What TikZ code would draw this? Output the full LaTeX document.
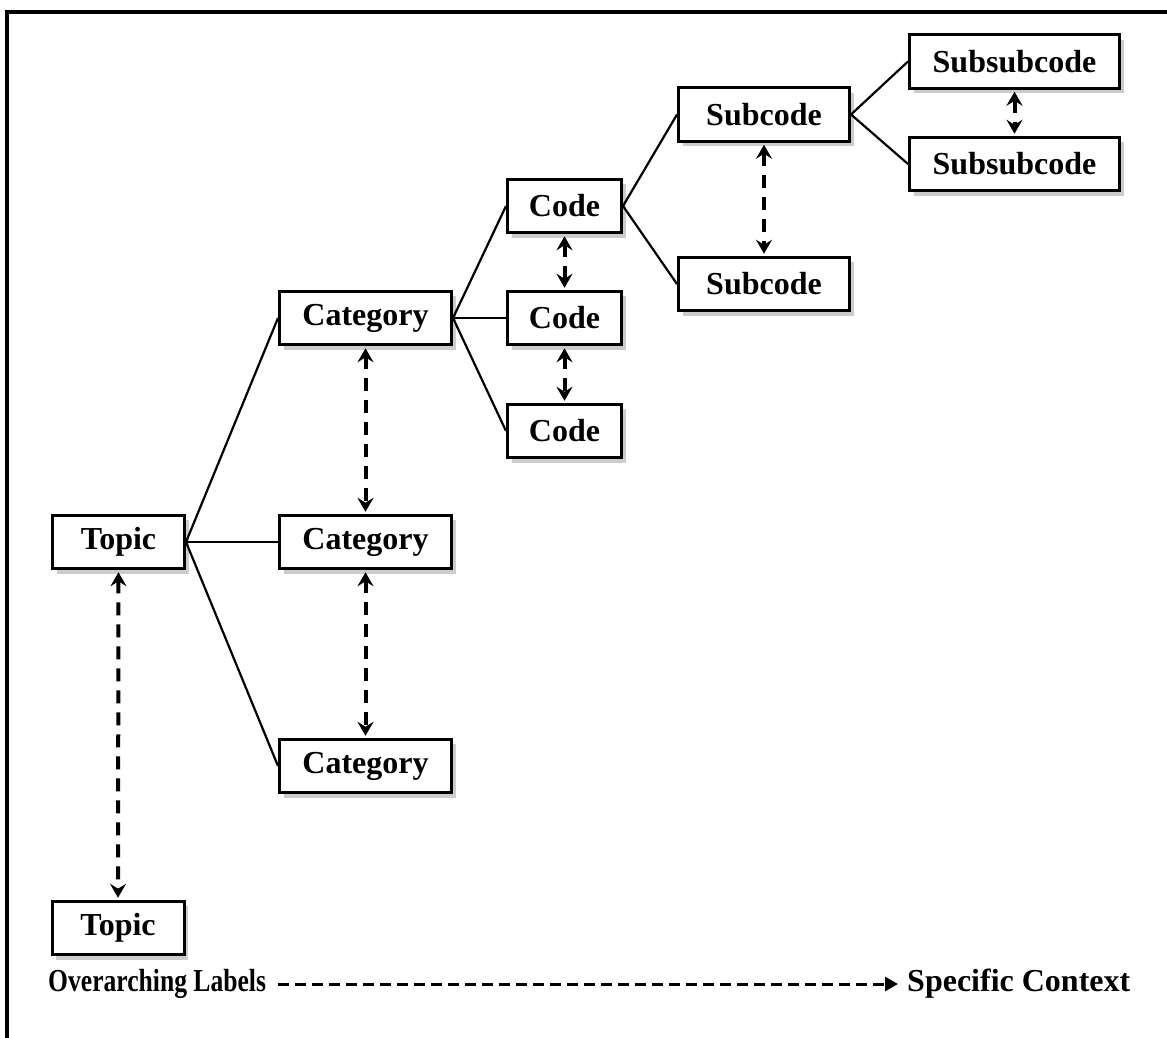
\documentclass[tikz,border=0pt]{standalone}
\usepackage{fontspec}
\setmainfont{Liberation Serif}
\usetikzlibrary{arrows.meta,shadows}
\begin{document}
\begin{tikzpicture}[x=1pt,y=-1pt,
  box/.style={draw, line width=3pt, fill=white, minimum height=53.5pt, inner sep=0pt,
    font=\fontsize{32}{37}\selectfont\bfseries,
    drop shadow={shadow xshift=4pt, shadow yshift=-5pt, opacity=0.4}},
  link/.style={line width=2.2pt},
  dbl/.style={line width=4pt, dash pattern=on 13pt off 9pt,
    {Stealth[length=14pt,width=16pt,inset=5pt]}-{Stealth[length=14pt,width=16pt,inset=5pt]},
    shorten >=2pt, shorten <=2pt},
  legtext/.style={font=\fontsize{32}{37}\selectfont\bfseries, inner sep=0pt},
  legarrow/.style={line width=3pt, dash pattern=on 11pt off 6pt, -{Triangle[length=13pt,width=14pt]}}]
\useasboundingbox (0,0) rectangle (1167,1038);
\draw[line width=4pt] (7,1045) -- (7,12) -- (1175,12);

\node[box, minimum width=132pt] (t1) at (118.5,542) {Topic};
\node[box, minimum width=132pt] (t2) at (118,928) {Topic};
\node[box, minimum width=172pt] (c1) at (365.5,318) {Category};
\node[box, minimum width=172pt] (c2) at (365.5,542) {Category};
\node[box, minimum width=172pt] (c3) at (365.5,766) {Category};
\node[box, minimum width=114pt] (d1) at (564.5,206) {Code};
\node[box, minimum width=114pt] (d2) at (564.5,318) {Code};
\node[box, minimum width=114pt] (d3) at (564.5,431) {Code};
\node[box, minimum width=171pt] (s1) at (764,114.5) {Subcode};
\node[box, minimum width=171pt] (s2) at (764,284) {Subcode};
\node[box, minimum width=210pt] (u1) at (1014.5,61.5) {Subsubcode};
\node[box, minimum width=210pt] (u2) at (1014.5,164) {Subsubcode};

\draw[link] (t1.east) -- (c1.west);
\draw[link] (t1.east) -- (c2.west);
\draw[link] (t1.east) -- (c3.west);
\draw[link] (c1.east) -- (d1.west);
\draw[link] (c1.east) -- (d2.west);
\draw[link] (c1.east) -- (d3.west);
\draw[link] (d1.east) -- (s1.west);
\draw[link] (d1.east) -- (s2.west);
\draw[link] (s1.east) -- (u1.west);
\draw[link] (s1.east) -- (u2.west);

\draw[dbl] (t1.south) -- (t2.north);
\draw[dbl] (c1.south) -- (c2.north);
\draw[dbl] (c2.south) -- (c3.north);
\draw[dbl] (d1.south) -- (d2.north);
\draw[dbl] (d2.south) -- (d3.north);
\draw[dbl] (s1.south) -- (s2.north);
\draw[dbl] (u1.south) -- (u2.north);

\node[legtext, anchor=west] (ol) at (48,984) {\scalebox{0.8}[1]{Overarching Labels}};
\node[legtext, anchor=west] (sc) at (907,984) {Specific Context};
\draw[legarrow] ([xshift=12pt]ol.east) -- ([xshift=-9pt]sc.west);
\end{tikzpicture}
\end{document}
